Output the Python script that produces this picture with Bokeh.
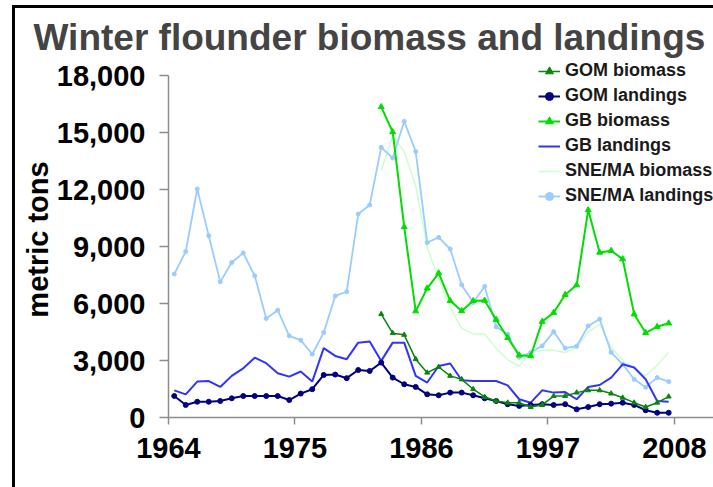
from bokeh.plotting import figure
from bokeh.models import (Range1d, FixedTicker, NumeralTickFormatter, Legend,
                          LegendItem, ColumnDataSource)
from bokeh.transform import dodge
from bokeh.embed import file_html
from bokeh.resources import INLINE

# ---- data (metric tons) ----
years = [1964, 1965, 1966, 1967, 1968, 1969, 1970, 1971, 1972, 1973,
         1974, 1975, 1976, 1977, 1978, 1979, 1980, 1981, 1982, 1983,
         1984, 1985, 1986, 1987, 1988, 1989, 1990, 1991, 1992, 1993,
         1994, 1995, 1996, 1997, 1998, 1999, 2000, 2001, 2002, 2003,
         2004, 2005, 2006, 2007]
bio_years = [1982, 1983, 1984, 1985, 1986, 1987, 1988, 1989, 1990, 1991,
             1992, 1993, 1994, 1995, 1996, 1997, 1998, 1999, 2000, 2001,
             2002, 2003, 2004, 2005, 2006, 2007]

gom_landings = [1130, 660, 830, 830, 870, 1010, 1130, 1130, 1130, 1130,
                920, 1260, 1490, 2240, 2260, 2070, 2500, 2450, 2890, 2100,
                1750, 1610, 1220, 1170, 1310, 1310, 1170, 1010, 870, 700,
                610, 660, 700, 660, 700, 430, 550, 700, 730, 780,
                660, 380, 250, 250]
gb_landings = [1430, 1220, 1890, 1920, 1610, 2190, 2590, 3150, 2860, 2330,
               2150, 2420, 1890, 3650, 3240, 3070, 3940, 4000, 2980, 3940,
               3940, 2190, 1840, 2710, 2840, 1960, 1920, 1920, 1920, 1690,
               960, 780, 1430, 1310, 1340, 960, 1610, 1710, 2100, 2800,
               2630, 2010, 870, 830]
snema_landings = [7550, 8740, 12030, 9570, 7140, 8160, 8660, 7460, 5210, 5650,
                  4300, 4070, 3330, 4470, 6400, 6620, 10710, 11190, 14220, 13660,
                  15590, 14000, 9210, 9480, 8870, 6980, 6050, 6900, 4770, 4390,
                  3170, 3420, 3770, 4520, 3650, 3750, 4820, 5180, 3430, 2800,
                  2010, 1590, 2100, 1890]
gom_biomass = [5440, 4440, 4350, 3070, 2360, 2660, 2190, 2010, 1490, 1080,
               870, 780, 780, 550, 660, 1130, 1130, 1310, 1430, 1430,
               1260, 1040, 780, 550, 780, 1100]
gb_biomass = [16350, 15030, 10030, 5600, 6800, 7600, 6140, 5610, 6140, 6160,
              5150, 4200, 3280, 3240, 5050, 5520, 6460, 6970, 10920, 8690,
              8780, 8340, 5440, 4460, 4780, 4960]
snema_biomass = [13000, 14800, 14000, 12200, 8950, 7300, 5790, 4690, 4400, 4400,
                 3640, 3030, 2710, 3400, 3540, 3540, 3420, 3700, 4500, 4900,
                 3700, 3000, 2600, 2190, 2750, 3420]

x_ticks = [1964, 1975, 1986, 1997, 2008]
y_ticks = [0, 3000, 6000, 9000, 12000, 15000, 18000]

FONT = "Liberation Sans"

p = figure(width=698, height=479, output_backend="svg", toolbar_location=None,
           x_range=Range1d(1964, 2011.4), y_range=Range1d(0, 18740),
           min_border_left=153, min_border_right=0, min_border_top=53,
           min_border_bottom=70, background_fill_color="white",
           border_fill_color="white")
p.styles = {"outline": "3px solid black", "margin-left": "15px",
            "margin-top": "8px"}

p.outline_line_color = None
p.xgrid.grid_line_color = None
p.ygrid.grid_line_color = None

p.title.text = "Winter flounder biomass and landings"
p.title.text_font = FONT
p.title.text_font_style = "bold"
p.title.text_font_size = "37px"
p.title.align = "left"
p.title.offset = -135
p.title.standoff = 8

for ax in (p.xaxis[0], p.yaxis[0]):
    ax.axis_line_color = "#8c8c8c"
    ax.axis_line_width = 1.5
    ax.major_tick_line_color = "#8c8c8c"
    ax.major_tick_line_width = 1.5
    ax.minor_tick_line_color = None
    ax.major_tick_in = 0
    ax.major_label_text_font = FONT
    ax.major_label_text_font_style = "bold"
    ax.major_label_text_font_size = "29px"
    ax.major_label_text_color = "black"

p.xaxis.ticker = FixedTicker(ticks=x_ticks)
p.xaxis.major_tick_out = 7
p.xaxis.major_label_standoff = 13
p.xaxis.formatter = NumeralTickFormatter(format="0")

p.yaxis.ticker = FixedTicker(ticks=y_ticks)
p.yaxis.bounds = (0, 18000)
p.yaxis.formatter = NumeralTickFormatter(format="0,0")
p.yaxis.major_tick_out = 9
p.yaxis.major_label_standoff = 14
p.yaxis.axis_label = "metric tons"
p.yaxis.axis_label_text_font = FONT
p.yaxis.axis_label_text_font_style = "bold"
p.yaxis.axis_label_text_font_size = "29px"
p.yaxis.axis_label_text_color = "black"
p.yaxis.axis_label_standoff = 0

land_src = ColumnDataSource(dict(year=years, gom=gom_landings, gb=gb_landings,
                                 snema=snema_landings))
bio_src = ColumnDataSource(dict(year=bio_years, gom=gom_biomass, gb=gb_biomass,
                                snema=snema_biomass))
xpos = dodge("year", 0.5)

series = [
    ("GOM biomass", bio_src, "gom", "#0a850a", 1.5, "triangle", 5),
    ("GOM landings", land_src, "gom", "#000080", 2, "circle", 5),
    ("GB biomass", bio_src, "gb", "#00dd00", 2, "triangle", 6),
    ("GB landings", land_src, "gb", "#3333ff", 2, None, 0),
    ("SNE/MA biomass", bio_src, "snema", "#ccffcc", 1.5, None, 0),
    ("SNE/MA landings", land_src, "snema", "#99ccff", 1.8, "circle", 4),
]

draw_order = [4, 5, 3, 1, 2, 0]
renderers = {}
for idx in draw_order:
    name, src, col, color, lw, marker, size = series[idx]
    rs = [p.line(x=xpos, y=col, source=src, line_color=color, line_width=lw)]
    if marker:
        rs.append(p.scatter(x=xpos, y=col, source=src, marker=marker, size=size,
                            fill_color=color, line_color=color))
    renderers[idx] = rs

items = [LegendItem(label=series[i][0], renderers=renderers[i]) for i in range(6)]
legend = Legend(items=items, location=(370, 211))
legend.label_text_font = FONT
legend.label_text_font_style = "bold"
legend.label_text_font_size = "18px"
legend.label_text_color = "#1a1a1a"
legend.glyph_width = 22
legend.glyph_height = 20
legend.label_height = 20
legend.label_standoff = 5
legend.spacing = 4
legend.padding = 0
legend.margin = 0
legend.border_line_color = None
legend.background_fill_alpha = 0
p.add_layout(legend)

open("out.html", "w").write(file_html(p, INLINE))
